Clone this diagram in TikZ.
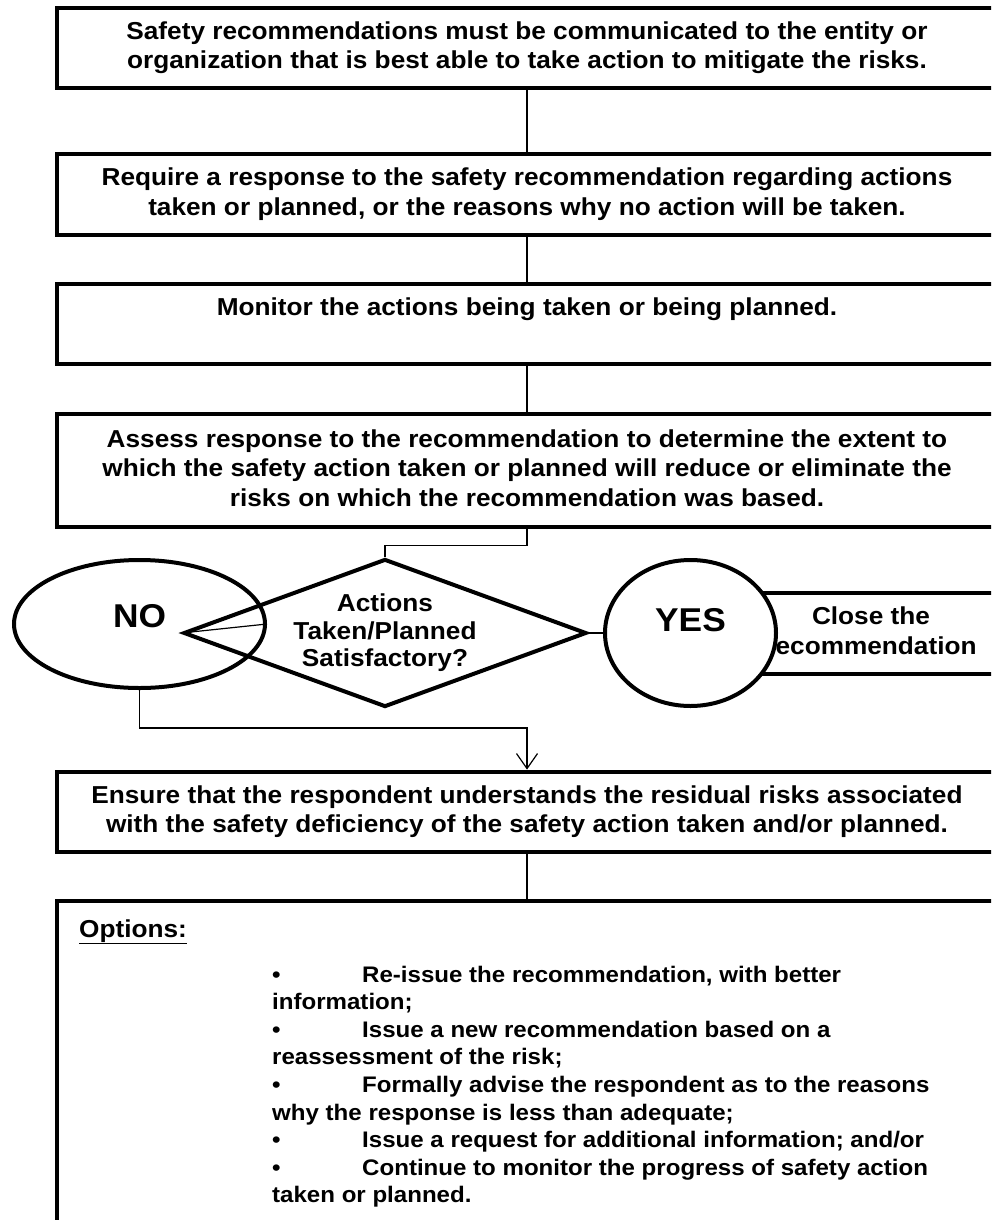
\documentclass[tikz,border=0pt]{standalone}
\usepackage{fontspec}
\setmainfont{Liberation Sans}[FakeStretch=1.07]
\usetikzlibrary{shapes.geometric, arrows.meta}

\newcommand{\boxstrut}{\rule[-5.5pt]{0pt}{33.5pt}}

\begin{document}
\begin{tikzpicture}[
   x=1pt, y=-1pt,
   stepbox/.style={rectangle, draw=black, fill=white, line width=4.8, align=center,
                   inner sep=0, minimum width=940, minimum height=80,
                   font=\fontsize{24.5}{29.5}\selectfont\bfseries,
                   execute at begin node=\boxstrut, execute at end node=\boxstrut},
   decision/.style={diamond, draw=black, line width=4, shape aspect=2.72, align=center,
                    inner sep=0, minimum width=403, minimum height=148,
                    font=\fontsize{24.5}{27.5}\selectfont\bfseries},
   answer/.style={ellipse, draw=black, line width=4, inner sep=0,
                  font=\fontsize{33}{36}\selectfont\bfseries},
   link/.style={draw=black, line width=1.2}
  ]

  % Page frame
  \useasboundingbox (0, 0) rectangle (991, 1220);
  \clip (0, 0) rectangle (991, 1220);

  \node (b1) at (527, 48) [stepbox] {Safety recommendations must be communicated to the entity or\\organization that is best able to take action to mitigate the risks.};
  \node (b2) at (527, 194.5) [stepbox, minimum height=81] {Require a response to the safety recommendation regarding actions\\taken or planned, or the reasons why no action will be taken.};
  \node (b3) at (527, 324) [stepbox] {Monitor the actions being taken or being planned.\\ \mbox{}};
  \node (b4) at (527, 470.5) [stepbox, minimum height=113] {Assess response to the recommendation to determine the extent to\\which the safety action taken or planned will reduce or eliminate the\\risks on which the recommendation was based.};

  \foreach \B/\E in {b1/b2, b2/b3, b3/b4} {
    \draw[link] (\B) -- (\E);
  }

  % Decision
  \node (d) at (385, 633) [decision] {Actions\\Taken/Planned\\Satisfactory?};
  \node (no) at (139.5, 624) [answer, minimum width=251, minimum height=128,
                              text height=25pt, text depth=19pt] {NO};
  \node (close) at (871, 633.5) [stepbox, minimum width=262, minimum height=81] {Close the\\recommendation};
  \node (yes) at (690.5, 633) [answer, fill=white, minimum width=171, minimum height=146,
                               text height=25pt, text depth=29pt] {YES};

  \draw[link] (b4.south) -- ++(0, 16) -| (d.north);
  \draw[link] (d.west) -- (no.east);
  \draw[link] (d.east) -- (yes.west);

  \node (b5) at (527, 812) [stepbox] {Ensure that the respondent understands the residual risks associated\\with the safety deficiency of the safety action taken and/or planned.};
  \draw[link, -{Straight Barb[length=15pt, width=21pt]}] (no.south) -- ++(0, 38) -| (b5.north);

  % Options
  \node (b6) at (527, 1101) [stepbox, minimum height=400] {};
  \draw[link] (b5) -- (b6);

  \node (opts) at (79, 937) [anchor=base west, inner sep=0,
                            font=\fontsize{24.5}{29.5}\selectfont\bfseries] {\underline{Options:}};
  \node (optlist) at (272, 965.5) [anchor=north west, inner sep=0, align=left,
                                   font=\fontsize{22.5}{27.6}\selectfont\bfseries] {%
    \makebox[90pt][l]{\textbullet}Re-issue the recommendation, with better\\
    information;\\
    \makebox[90pt][l]{\textbullet}Issue a new recommendation based on a\\
    reassessment of the risk;\\
    \makebox[90pt][l]{\textbullet}Formally advise the respondent as to the reasons\\
    why the response is less than adequate;\\
    \makebox[90pt][l]{\textbullet}Issue a request for additional information; and/or\\
    \makebox[90pt][l]{\textbullet}Continue to monitor the progress of safety action\\
    taken or planned.};

\end{tikzpicture}
\end{document}
